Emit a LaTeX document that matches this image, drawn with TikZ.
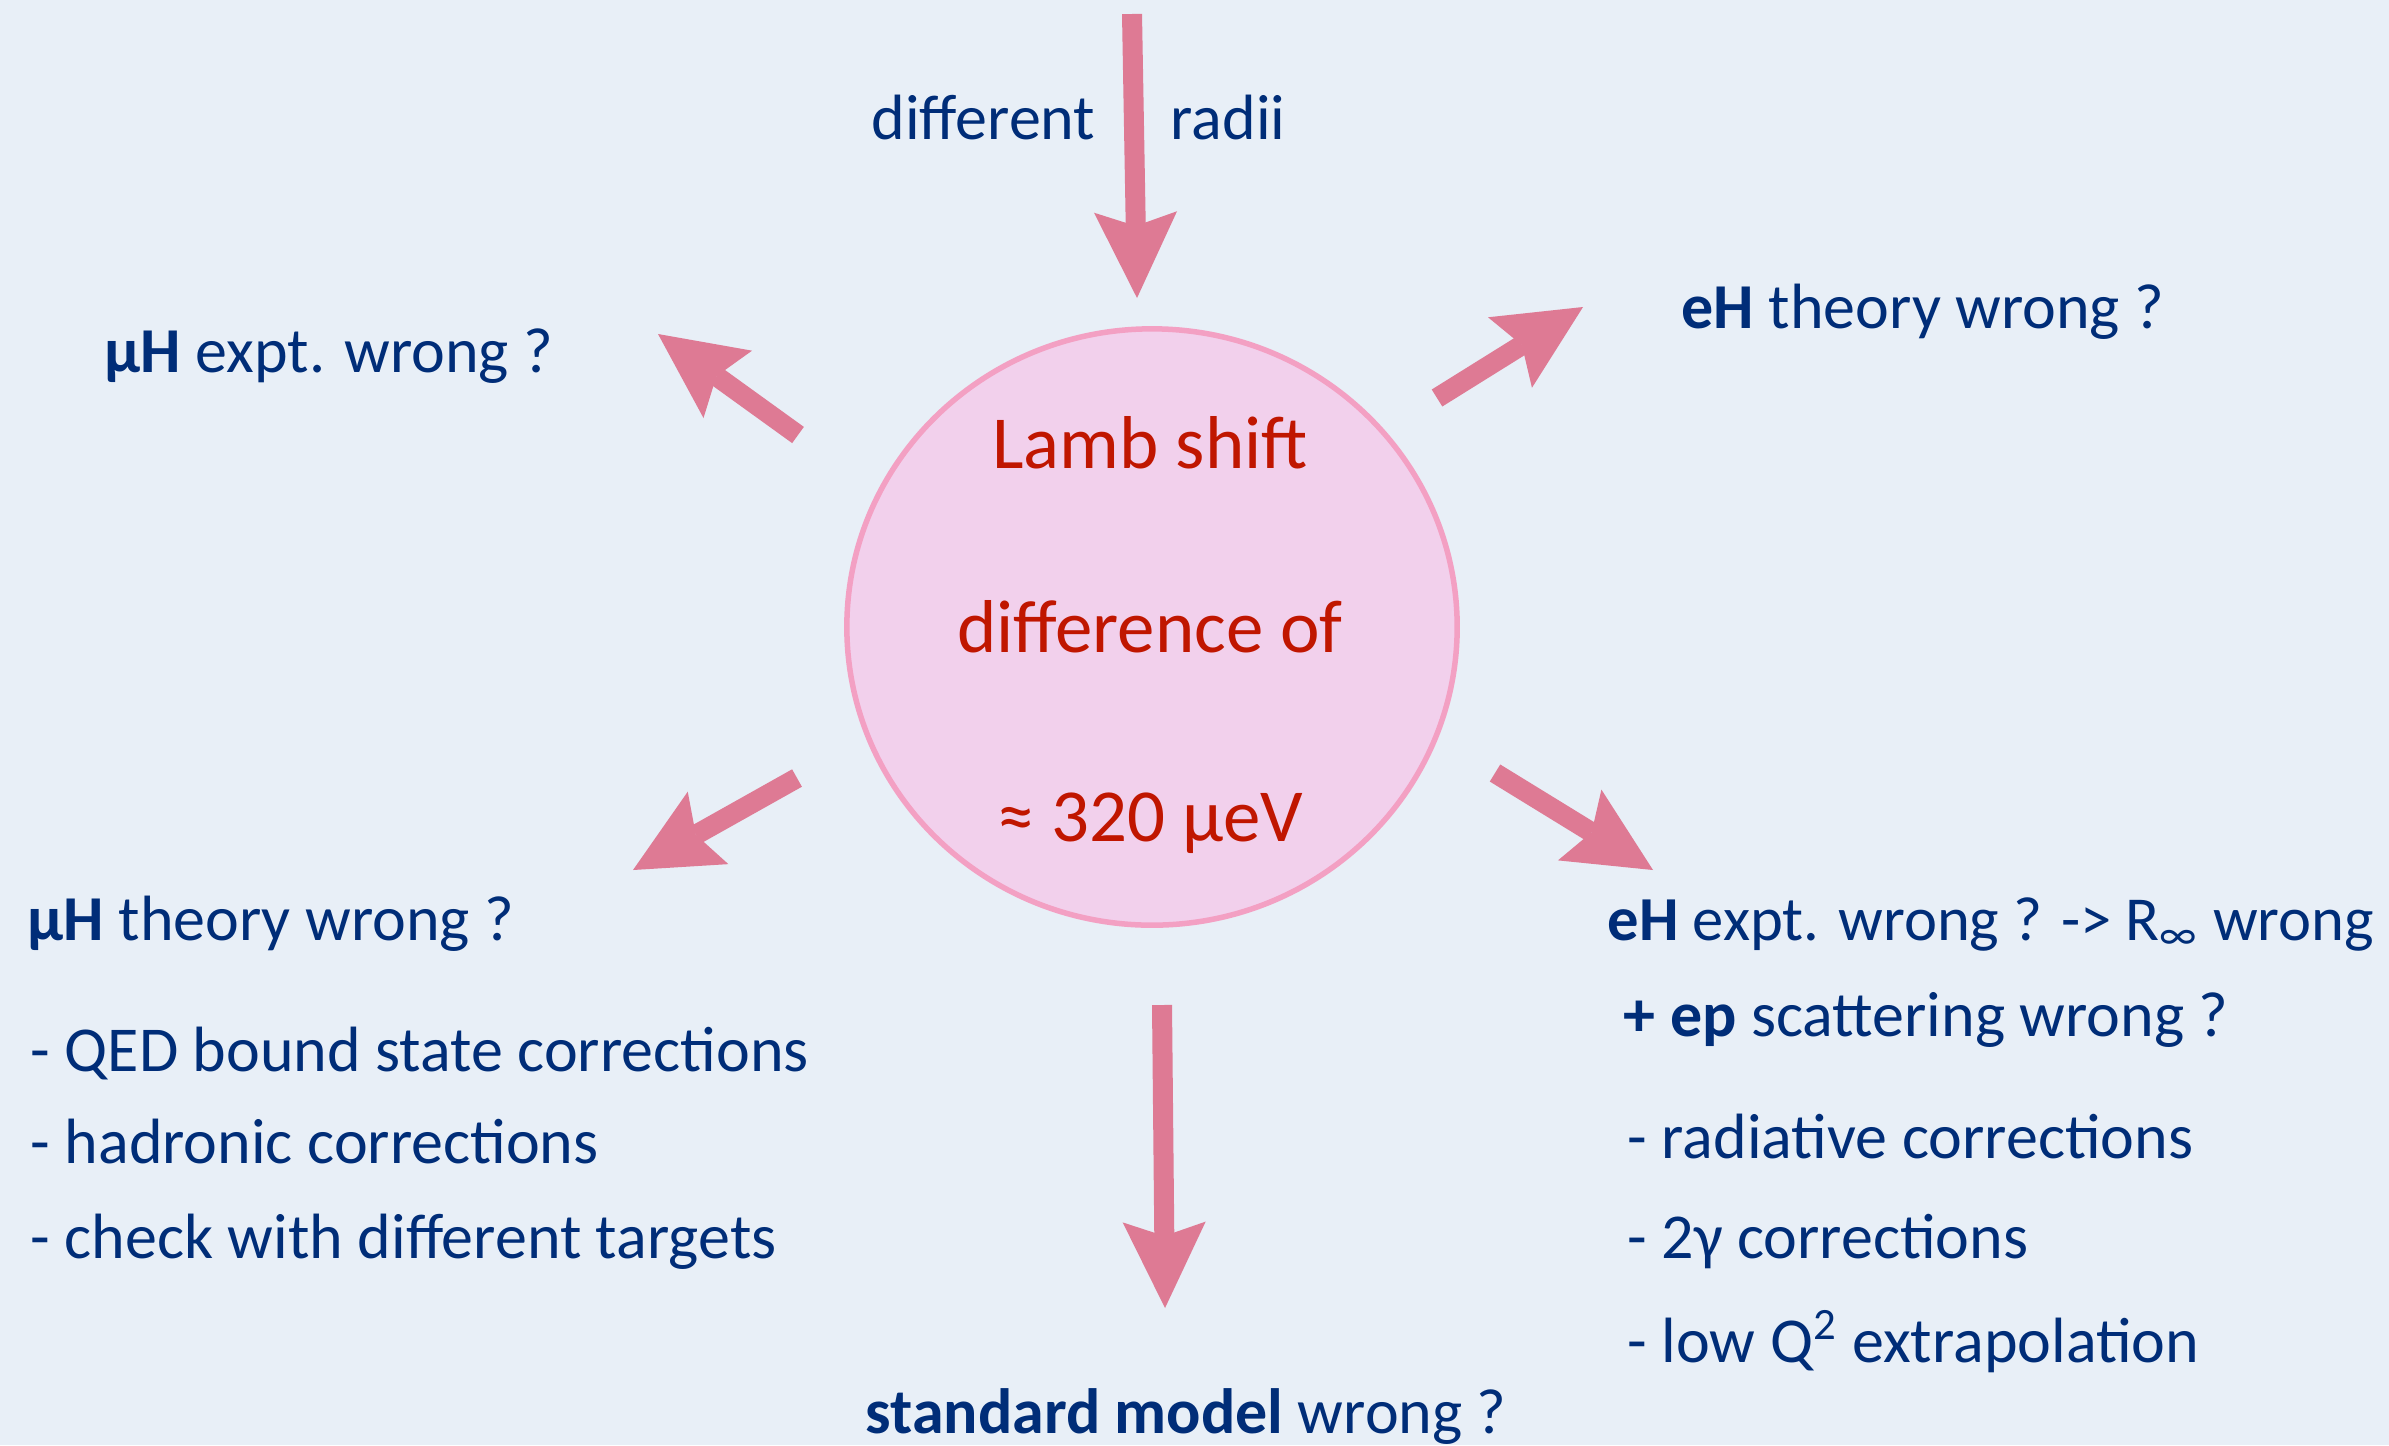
\documentclass[tikz,border=0pt]{standalone}
\usepackage{fontspec}
\setmainfont{Carlito}
\usepackage{tikz}
\usetikzlibrary{shapes.geometric,arrows.meta,positioning}

\definecolor{bgblue}{RGB}{232,239,247}
\definecolor{txtblue}{RGB}{0,45,120}
\definecolor{txtred}{RGB}{192,22,0}
\definecolor{circfill}{RGB}{242,208,236}
\definecolor{circline}{RGB}{243,160,195}
\definecolor{arrowpink}{RGB}{222,122,148}

\tikzset{
  bluetxt/.style={text=txtblue, font=\fontsize{18.2}{21}\selectfont, inner sep=0pt, anchor=base west},
  redtxt/.style={text=txtred, font=\fontsize{21.3}{25}\selectfont, inner sep=0pt, anchor=base},
  bigarrow/.style={draw=arrowpink, line width=2mm,
    -{Stealth[length=8.6mm, width=8.3mm, inset=1.4mm, line width=0pt]}},
}

\begin{document}
\begin{tikzpicture}[x=0.01cm, y=-0.01cm]
  \fill[bgblue] (0,0) rectangle (2389,1445);
  \useasboundingbox (0,0) rectangle (2389,1445);

  \node[ellipse, draw=circline, fill=circfill, line width=0.55mm,
        minimum width=6.1cm, minimum height=5.96cm, inner sep=0pt] (shift) at (1152,627) {};
  \node[redtxt] (lamb) at (1150,468) {Lamb shift};
  \node[redtxt] (diffof) at (1150,652) {difference of};
  \node[redtxt] (val) at (1150,841) {≈ 320 µeV};

  \node[bluetxt] (diff) at (871,139) {different};
  \node[bluetxt] (radii) at (1170,139) {radii};
  \node[bluetxt] (muexp) at (104,372) {\textbf{µH} expt. wrong ?};
  \node[bluetxt] (ehth) at (1681,328) {\textbf{eH} theory wrong ?};

  \node[bluetxt] (muth) at (27,940) {\textbf{µH} theory wrong ?};
  \node[bluetxt] (qed) at (30,1071) {- QED bound state corrections};
  \node[bluetxt] (had) at (30,1163) {- hadronic corrections};
  \node[bluetxt] (chk) at (30,1258) {- check with different targets};

  \node[bluetxt, font=\fontsize{17.8}{21}\selectfont] (ehexp) at (1607,940)
    {\textbf{eH} expt. wrong ? -> R\textsubscript{∞} wrong};
  \node[bluetxt] (ep) at (1623,1036) {\textbf{+ ep} scattering wrong ?};
  \node[bluetxt] (rad) at (1627,1158) {- radiative corrections};
  \node[bluetxt] (twog) at (1627,1258) {- 2γ corrections};
  \node[bluetxt] (lowq) at (1627,1362) {- low Q\textsuperscript{2} extrapolation};

  \node[bluetxt] (sm) at (865,1433) {\textbf{standard model} wrong ?};

  % arrow ends
  \coordinate (topA) at (1132,14);    \coordinate (topB) at (1137,298);
  \coordinate (ulA) at (798,435);     \coordinate (ulB) at (658,334);
  \coordinate (urA) at (1437,398);    \coordinate (urB) at (1583,307);
  \coordinate (llA) at (797,778);     \coordinate (llB) at (633,870);
  \coordinate (lrA) at (1495,773);    \coordinate (lrB) at (1653,870);
  \coordinate (botA) at (1162,1005);  \coordinate (botB) at (1165,1308);

  \foreach \a in {top,ul,ur,ll,lr,bot}
    \draw[bigarrow] (\a A) -- (\a B);
\end{tikzpicture}
\end{document}
